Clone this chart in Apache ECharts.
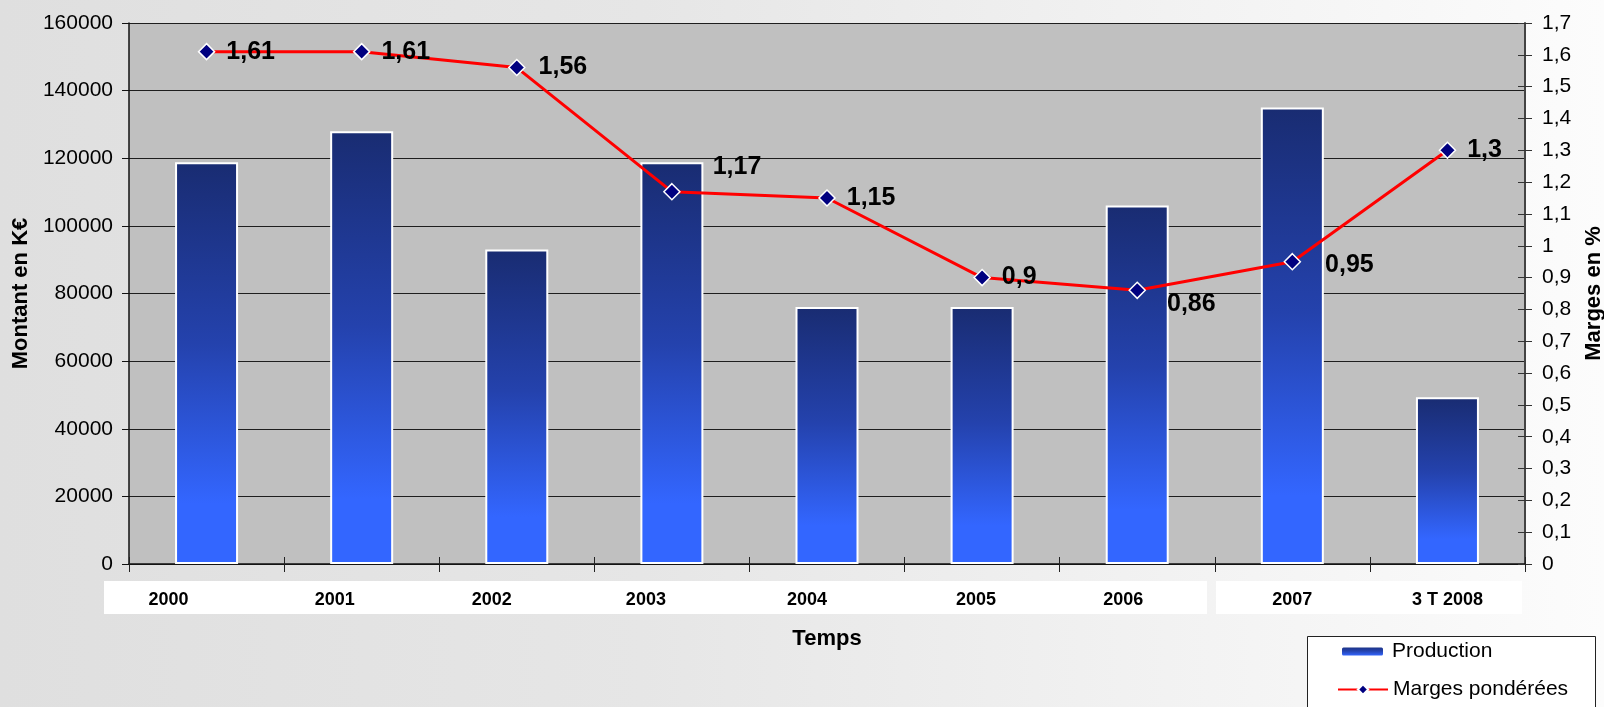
<!DOCTYPE html>
<html>
<head>
<meta charset="utf-8">
<script src="https://cdn.jsdelivr.net/npm/echarts@6/dist/echarts.min.js"></script>
<style>
  html, body { margin: 0; padding: 0; }
  body { width: 1604px; height: 707px; background: linear-gradient(to right, #dfdfdf 0%, #e6e6e6 40%, #fcfcfc 100%); }
  #chart { width: 1604px; height: 707px; }
</style>
</head>
<body>
<div id="chart"></div>
<script>
// ---- Data ----
const categories = ['2000', '2001', '2002', '2003', '2004', '2005', '2006', '2007', '3 T 2008'];
const production = [118800, 128000, 93000, 118800, 76000, 76000, 106000, 135000, 49300];
const marges = [1.61, 1.61, 1.56, 1.17, 1.15, 0.9, 0.86, 0.95, 1.3];
const leftTicks = { min: 0, max: 160000, interval: 20000 };
const rightTicks = { min: 0, max: 1.7, interval: 0.1 };

// ---- Styling helpers ----
const FONT = 'Liberation Sans, Arial, Helvetica, sans-serif';
const fmtComma = v => String(Math.round(v * 100) / 100).replace('.', ',');
// label nudges (layout only)
const catLabelShift = [-38, -27, -25, -26, -20, -6, -14, 0, 0];
const pointLabelOffset = [[0,0],[0,0],[2,0],[21,-25],[0,0],[0,0],[10,14],[13,3],[0,0]];

const chart = echarts.init(document.getElementById('chart'));

const barGradient = new echarts.graphic.LinearGradient(0, 0, 0, 1, [
  { offset: 0, color: '#192c72' },
  { offset: 0.45, color: '#2442ad' },
  { offset: 0.85, color: '#3366ff' },
  { offset: 1, color: '#3366ff' }
]);

const xData = categories.map((c, i) => {
  const d = catLabelShift[i];
  return {
    value: c,
    textStyle: { padding: d < 0 ? [0, -2 * d, 0, 0] : [0, 0, 0, 2 * d] }
  };
});

const lineData = marges.map((v, i) => ({
  value: v,
  label: { offset: pointLabelOffset[i] }
}));

const legendCommon = {
  orient: 'vertical',
  padding: 0,
  selectedMode: false,
  textStyle: { fontSize: 21, color: '#000', fontFamily: FONT, padding: [0, 0, 0, 3] }
};

const option = {
  backgroundColor: 'transparent',
  animation: false,
  textStyle: { fontFamily: FONT },
  graphic: [
    { type: 'rect', z: -1, shape: { x: 104, y: 581, width: 1103, height: 33 }, style: { fill: '#ffffff' } },
    { type: 'rect', z: -1, shape: { x: 1216, y: 581, width: 306, height: 33 }, style: { fill: '#ffffff' } },
    { type: 'rect', z: -1, shape: { x: 1307.5, y: 636.5, width: 288, height: 90 }, style: { fill: '#ffffff', stroke: '#222', lineWidth: 1 } }
  ],
  grid: {
    left: 129, right: 79, top: 23, bottom: 143,
    outerBoundsMode: 'none', containLabel: false,
    show: true, backgroundColor: '#c0c0c0', borderWidth: 0
  },
  legend: [
    Object.assign({}, legendCommon, { left: 1340, top: 641, itemWidth: 43, itemHeight: 10, data: ['Production'] }),
    Object.assign({}, legendCommon, { left: 1337, top: 679, itemWidth: 50, itemHeight: 13, textStyle: Object.assign({}, legendCommon.textStyle, { padding: [0, 0, 0, 0] }), data: ['Marges pondérées'] })
  ],
  xAxis: [
    {
      type: 'category', data: xData, position: 'bottom',
      name: 'Temps', nameLocation: 'middle', nameGap: 64,
      nameTextStyle: { fontSize: 22, fontWeight: 'bold', color: '#000', fontFamily: FONT },
      axisLine: { show: true, lineStyle: { color: '#111', width: 1.5 } },
      axisTick: { show: true, inside: false, length: 8, lineStyle: { color: '#222' } },
      axisLabel: { margin: 27, fontSize: 18, fontWeight: 'bold', color: '#000', fontFamily: FONT, interval: 0 },
      splitLine: { show: false }
    },
    {
      type: 'category', data: categories, position: 'bottom',
      axisLine: { show: false },
      axisTick: { show: true, inside: true, length: 7, lineStyle: { color: '#222' } },
      axisLabel: { show: false },
      splitLine: { show: false }
    }
  ],
  yAxis: [
    {
      type: 'value', position: 'left',
      min: leftTicks.min, max: leftTicks.max, interval: leftTicks.interval,
      name: 'Montant en K€', nameLocation: 'middle', nameGap: 97, nameRotate: 90,
      nameTextStyle: { fontSize: 22, fontWeight: 'bold', color: '#000', fontFamily: FONT },
      axisLine: { show: true, lineStyle: { color: '#111', width: 1.5 } },
      axisTick: { show: true, inside: false, length: 7, lineStyle: { color: '#111' } },
      axisLabel: { margin: 16, fontSize: 21, color: '#000', fontFamily: FONT, formatter: v => String(v) },
      splitLine: { show: true, lineStyle: { color: '#1e1e1e', width: 1 } }
    },
    {
      type: 'value', position: 'right',
      min: rightTicks.min, max: rightTicks.max, interval: rightTicks.interval,
      name: 'Marges en %', nameLocation: 'middle', nameGap: 58, nameRotate: 90,
      nameTextStyle: { fontSize: 22, fontWeight: 'bold', color: '#000', fontFamily: FONT },
      axisLine: { show: true, lineStyle: { color: '#444', width: 2 } },
      axisTick: { show: true, inside: false, length: 7, lineStyle: { color: '#333' } },
      axisLabel: { margin: 17, fontSize: 21, color: '#000', fontFamily: FONT, formatter: fmtComma },
      splitLine: { show: false }
    },
    {
      type: 'value', position: 'right',
      min: rightTicks.min, max: rightTicks.max, interval: rightTicks.interval,
      axisLine: { show: false },
      axisTick: { show: true, inside: true, length: 7, lineStyle: { color: '#333' } },
      axisLabel: { show: false },
      splitLine: { show: false }
    }
  ],
  series: [
    {
      name: 'Production', type: 'bar', xAxisIndex: 0, yAxisIndex: 0,
      data: production,
      barWidth: 63,
      itemStyle: { color: barGradient, borderColor: '#ffffff', borderWidth: 2 }
    },
    {
      name: 'Marges pondérées', type: 'line', xAxisIndex: 0, yAxisIndex: 1,
      data: lineData,
      symbol: 'diamond', symbolSize: 16,
      lineStyle: { color: '#ff0000', width: 3 },
      itemStyle: { color: '#000080', borderColor: '#ffffff', borderWidth: 1.5 },
      label: {
        show: true, position: 'right', distance: 11,
        fontSize: 25, fontWeight: 'bold', color: '#000', fontFamily: FONT,
        formatter: p => fmtComma(p.value)
      },
      z: 5
    }
  ]
};

chart.setOption(option);
</script>
</body>
</html>
